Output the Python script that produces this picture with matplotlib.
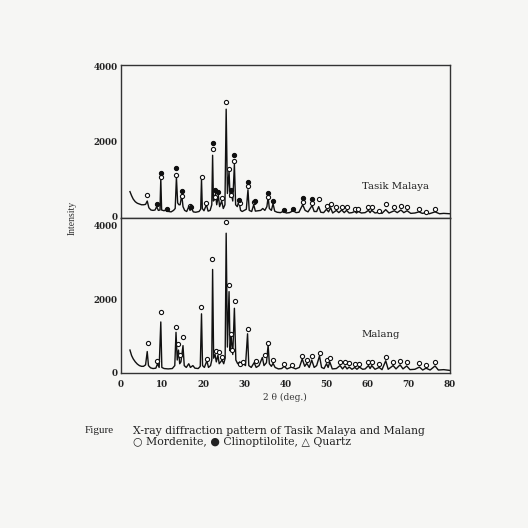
# XRD pattern plotter - Tasik Malaya / Malang zeolites

import numpy as np
import matplotlib.pyplot as plt

# trace vertices (2 theta, intensity)
tm_x = [2.2, 2.6, 3.0, 3.5, 4.0, 4.5, 5.0, 5.5, 6.0, 6.4, 6.8, 7.3, 7.8, 8.3, 8.7, 9.1, 9.5, 9.7, 9.9,
        10.5, 11.1, 11.6, 12.2, 12.8, 13.2, 13.5, 13.8, 14.1, 14.4, 14.8, 15.1, 15.5, 16.0, 16.5, 16.8,
        17.2, 17.6, 18.2, 19.0, 19.4, 19.6, 19.8, 20.2, 20.8, 21.2, 21.7, 22.1, 22.3, 22.5, 22.8, 23.0,
        23.3, 23.7, 24.0, 24.5, 24.9, 25.3, 25.6, 25.9, 26.3, 26.55, 26.8, 27.2, 27.6, 27.9, 28.3, 28.7,
        29.1, 29.5, 30.0, 30.5, 30.9, 31.2, 31.8, 32.3, 32.7, 33.3, 34.0, 34.5, 35.0, 35.5, 35.8, 36.1,
        36.6, 37.0, 37.4, 38.0, 38.8, 39.6, 40.2, 41.0, 41.9, 42.6, 43.3, 44.2, 44.8, 45.5, 46.5, 47.0,
        47.6, 48.1, 48.6, 49.3, 50.0, 50.5, 51.0, 51.5, 52.4, 53.0, 53.7, 54.3, 54.9, 55.5, 56.2, 56.9,
        57.3, 57.7, 58.5, 59.4, 60.2, 60.6, 61.0, 61.8, 62.8, 63.5, 64.4, 65.2, 66.5, 67.2, 68.1, 68.8,
        69.6, 70.5, 71.5, 72.5, 73.3, 74.2, 75.0, 76.4, 77.5, 78.5, 80.0]
tm_y = [650, 540, 450, 380, 340, 320, 300, 300, 310, 400, 220, 160, 150, 160, 250, 150, 160, 1000, 160,
        140, 180, 120, 110, 150, 200, 1030, 350, 300, 300, 560, 250, 150, 120, 250, 150,
        200, 110, 100, 120, 180, 980, 200, 140, 300, 130, 150, 300, 1620, 400, 450, 600,
        300, 550, 250, 400, 200, 300, 2850, 600, 1200, 500, 650, 400, 1380, 300, 250, 400,
        150, 120, 150, 180, 700, 150, 120, 300, 130, 140, 150, 200, 150, 250, 500, 200,
        150, 330, 130, 100, 90, 130, 80, 90, 140, 90, 100, 300, 150, 110, 280, 120,
        120, 250, 100, 90, 180, 110, 220, 80, 150, 90, 160, 90, 150, 80, 90, 120,
        80, 120, 80, 90, 150, 90, 150, 80, 100, 70, 170, 80, 140, 90, 160, 90,
        140, 70, 80, 110, 70, 90, 60, 110, 60, 70, 60]

ml_x = [2.2, 2.6, 3.0, 3.5, 4.0, 4.5, 5.0, 5.5, 6.0, 6.4, 6.7, 7.2, 7.8, 8.5, 8.9, 9.3, 9.7, 9.95,
        10.5, 11.5, 12.5, 13.1, 13.4, 13.7, 14.0, 14.3, 14.6, 15.1, 15.4, 15.9, 16.5, 16.9, 17.5, 18.0,
        18.8, 19.3, 19.6, 19.85, 20.3, 20.9, 21.3, 21.8, 22.1, 22.3, 22.55, 22.9, 23.2, 23.6, 23.9,
        24.6, 25.0, 25.35, 25.6, 25.9, 26.3, 26.55, 26.8, 27.2, 27.6, 27.95, 28.4, 28.9, 29.3, 29.8,
        30.3, 30.8, 31.1, 31.7, 32.4, 32.9, 33.6, 34.4, 34.8, 35.4, 35.8, 36.1, 36.6, 37.0, 37.5, 38.3,
        39.1, 39.7, 40.4, 41.5, 42.5, 43.4, 44.1, 44.7, 45.2, 45.8, 46.4, 47.0, 47.6, 48.3, 48.8, 49.4,
        50.0, 50.4, 50.8, 51.4, 52.4, 53.3, 53.9, 54.5, 55.0, 55.5, 56.2, 56.9, 57.4, 58.0, 58.8, 59.4,
        60.2, 60.6, 61.0, 61.8, 62.8, 63.5, 64.4, 65.0, 66.2, 66.9, 67.9, 68.6, 69.5, 70.3, 71.5, 72.6,
        73.4, 74.2, 75.2, 76.4, 77.2, 78.5, 80.0]
ml_y = [620, 470, 380, 300, 240, 200, 180, 180, 220, 580, 200, 140, 120, 130, 250, 150, 1380, 150,
        120, 110, 120, 200, 1100, 350, 620, 250, 300, 740, 200, 150, 250, 150, 200, 130,
        120, 180, 1600, 200, 150, 330, 150, 200, 350, 2800, 400, 500, 300, 480, 250,
        350, 250, 400, 3780, 700, 2200, 600, 1000, 500, 1750, 350, 250, 300, 200, 250,
        200, 1060, 200, 150, 280, 150, 200, 420, 200, 280, 750, 250, 180, 260, 150, 110,
        120, 180, 110, 160, 110, 150, 380, 180, 260, 150, 350, 150, 200, 460, 150, 120,
        250, 150, 300, 110, 120, 200, 110, 190, 110, 160, 100, 150, 100, 160, 100, 110,
        200, 120, 200, 100, 150, 90, 330, 100, 200, 110, 220, 110, 190, 90, 100, 160,
        80, 130, 80, 190, 80, 90, 70]

# phase markers: open = mordenite, filled = clinoptilolite
tm_open_x = [6.4, 9.7, 13.5, 14.8, 16.7, 19.6, 20.8, 22.3, 22.8, 24.5, 25.6, 26.3, 26.7, 27.6, 29.0,
             30.9, 32.3, 35.8, 44.2, 46.5, 48.1, 50.0, 51.0, 52.4, 53.7, 54.9, 56.9, 57.7, 60.2, 61.0,
             62.8, 64.4, 66.5, 68.1, 69.6, 72.5, 74.2, 76.4]
tm_open_y = [560, 1040, 1093, 540, 280, 1050, 355, 1795, 515, 470, 3040, 1262, 550, 1475, 360,
             800, 370, 515, 365, 355, 462, 275, 320, 249, 230, 240, 178, 178, 231, 231,
             142, 311, 231, 267, 240, 178, 107, 196]
tm_fill_x = [8.7, 9.7, 11.1, 13.5, 14.8, 17.0, 22.3, 23.0, 23.7, 26.8, 27.6, 28.7, 30.9, 32.6,
             35.8, 37.0, 39.6, 41.9, 44.2, 46.5]
tm_fill_y = [320, 1140, 200, 1280, 675, 240, 1940, 693, 640, 700, 1618, 427, 915, 390,
             622, 400, 160, 180, 490, 462]

ml_open_x = [6.5, 8.75, 9.7, 13.4, 13.9, 14.4, 15.2, 19.5, 20.9, 22.2, 23.1, 23.8, 24.6, 25.6, 26.2,
             26.8, 27.0, 27.7, 28.9, 29.8, 30.8, 32.8, 35.0, 35.7, 36.9, 39.7, 41.5, 44.1, 45.2,
             46.4, 48.4, 50.0, 50.8, 53.3, 54.5, 55.5, 56.9, 58.0, 60.2, 61.0, 62.8, 64.4, 66.2,
             67.9, 69.5, 72.6, 74.2, 76.4]
ml_open_y = [811, 333, 1649, 1243, 784, 495, 965, 1776, 370, 3090, 603, 568, 430, 4082, 2370,
             1054, 630, 1955, 252, 297, 1198, 315, 478, 811, 360, 243, 225, 468, 360,
             450, 550, 360, 405, 297, 297, 257, 240, 240, 306, 306, 240, 423, 306,
             333, 306, 257, 203, 297]

serif = ['Liberation Serif', 'DejaVu Serif', 'DejaVu Sans']
wide = ['DejaVu Serif', 'DejaVu Sans']
bg = '#f6f6f4'
ink = '#222222'

fig = plt.figure(figsize=(5.28, 5.28), dpi=100, facecolor=bg)
ax1 = fig.add_axes([0.229, 0.587, 0.623, 0.290])
ax2 = fig.add_axes([0.229, 0.2936, 0.623, 0.2934])

for ax in (ax1, ax2):
    ax.set_facecolor(bg)
    ax.set_xlim(0, 80)
    ax.set_yticks([0, 2000, 4000])
    ax.tick_params(axis='y', length=0, pad=2.5, labelsize=6.3, colors=ink)
    ax.tick_params(axis='x', length=0, pad=5, labelsize=6.3, colors=ink)
    for sp in ax.spines.values():
        sp.set_color('#333333')
        sp.set_linewidth(1.0)

ax1.set_ylim(-55, 4030)
ax2.set_ylim(0, 4190)
ax1.set_xticks([])
ax2.set_xticks(np.arange(0, 81, 10))
for ax in (ax1, ax2):
    for lab in ax.get_yticklabels() + ax.get_xticklabels():
        lab.set_family(wide)
        lab.set_fontweight('bold')

ax1.plot(tm_x, tm_y, color='#111111', lw=1.0)
ax1.plot(tm_open_x, tm_open_y, 'o', ms=3.0, mfc='white', mec='#111111', mew=0.8, ls='none')
ax1.plot(tm_fill_x, tm_fill_y, 'o', ms=3.0, mfc='#111111', mec='#111111', mew=0.8, ls='none')
ax1.text(58.6, 720, 'Tasik Malaya', family=wide, fontsize=7.3, color=ink)

ax2.plot(ml_x, ml_y, color='#111111', lw=1.0)
ax2.plot(ml_open_x, ml_open_y, 'o', ms=3.0, mfc='white', mec='#111111', mew=0.8, ls='none',
         clip_on=False)
ax2.text(58.6, 973, 'Malang', family=wide, fontsize=7.3, color=ink)

fig.text(0.137, 0.587, 'Intensity', rotation=90, ha='center', va='center',
         family=serif, fontsize=7, color='#333333')
fig.text(0.54, 0.248, '2 \u03b8 (deg.)', ha='center', va='center', family=wide,
         fontsize=6.5, color='#333333')

fig.text(0.161, 0.184, 'Figure', va='center', family=serif, fontsize=8, color=ink)
fig.text(0.251, 0.184, 'X-ray diffraction pattern of Tasik Malaya and Malang', va='center',
         family=wide, fontsize=7.8, color=ink)
fig.text(0.251, 0.162, '\u25cb Mordenite, \u25cf Clinoptilolite, \u25b3 Quartz', va='center',
         family=wide, fontsize=7.8, color=ink)

fig.savefig('out.png', dpi=100, facecolor=bg)
